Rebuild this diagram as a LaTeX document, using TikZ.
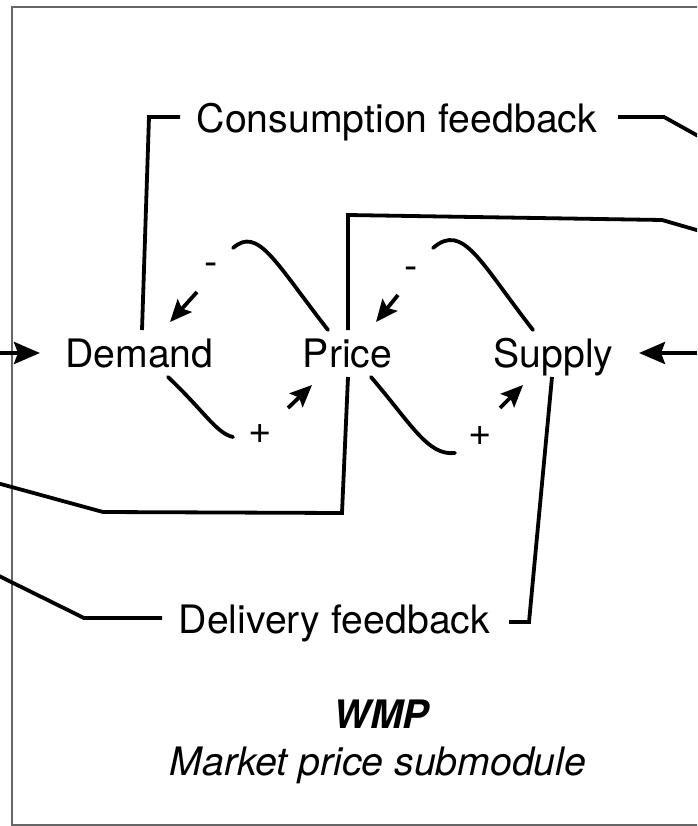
\documentclass[tikz,border=0pt]{standalone}
\usepackage{fontspec}
\setmainfont{TeX Gyre Heros}
\usetikzlibrary{arrows.meta}
\begin{document}
\begin{tikzpicture}[x=1pt,y=-1pt,
  lbl/.style={inner sep=0pt,anchor=base,font=\fontsize{39.2}{46}\selectfont},
  sgn/.style={inner sep=0pt,font=\fontsize{40}{46}\selectfont},
  conn/.style={line width=3.8pt,line join=miter},
  infl/.style={line width=3.8pt,line cap=round},
  sarrow/.style={line width=3.8pt,-{Stealth[length=22pt,width=19pt,inset=4pt]}},
  barrow/.style={line width=3.8pt,-{Stealth[length=26pt,width=22pt,inset=4pt]}},
  frame/.style={line width=2.2pt,draw=black!60}]
\useasboundingbox (0,0) rectangle (697,826);
\clip (0,0) rectangle (697,826);
\draw[frame] (12,7) rectangle (740,825);

% main nodes
\node[lbl] (demand) at (139.5,367) {Demand};
\node[lbl] (price)  at (347.5,367) {Price};
\node[lbl] (supply) at (553.5,367) {Supply};
\node[lbl] (consfb) at (397,133) {Consumption feedback};
\node[lbl] (delivfb) at (334.5,633) {Delivery feedback};
\node[lbl,font=\fontsize{39.2}{46}\selectfont\bfseries\itshape] (wmp) at (381,728) {WMP};
\node[lbl,font=\fontsize{39.2}{46}\selectfont\itshape] (sub) at (378,775) {Market price submodule};

% sign labels
\node[sgn] (m1) at (211,269) {-};
\node[sgn] (p1) at (260,434) {+};
\node[sgn] (m2) at (411,273) {-};
\node[sgn] (p2) at (480,436) {+};

% attachment coordinates
\coordinate (dTop) at (142,330);
\coordinate (cL) at (180,117);
\coordinate (cR) at (618,117);
\coordinate (pTop) at (348,330);
\coordinate (pBot) at (348,377);
\coordinate (sBot) at (552,377);
\coordinate (dR) at (509,622);
\coordinate (dL) at (162,618);
\coordinate (inL) at (0,353);
\coordinate (inR) at (697,353);
\coordinate (outA) at (700,137);
\coordinate (outB) at (700,231);
\coordinate (outC) at (-3,483);
\coordinate (outD) at (-3,575);

% feedback connectors
\draw[conn] (dTop) -- (149,117) -- (cL);
\draw[conn] (cR) -- (664,117) -- (outA);
\draw[conn] (pTop) -- (348,215) -- (662,220) -- (outB);
\draw[conn] (pBot) -- (342,513) -- (103,512) -- (outC);
\draw[conn] (sBot) -- (529,622) -- (dR);
\draw[conn] (dL) -- (84,618) -- (outD);

% inputs
\draw[barrow] (inL) -- (40,353);
\draw[barrow] (inR) -- (639,353);

% influence curves
\draw[infl] (328,330) .. controls (275,262) and (258,226) .. (233,248);
\draw[sarrow] (197,292) -- (170,322);
\draw[infl] (168,377) .. controls (205,412) and (216,433) .. (233,437);
\draw[sarrow] (288,408) -- (312,385);

\draw[infl] (533,330) .. controls (480,262) and (463,222) .. (433,248);
\draw[sarrow] (398,295) -- (376,322);
\draw[infl] (371,377) .. controls (412,425) and (428,456) .. (455,453);
\draw[sarrow] (500,408) -- (523,385);
\end{tikzpicture}
\end{document}
